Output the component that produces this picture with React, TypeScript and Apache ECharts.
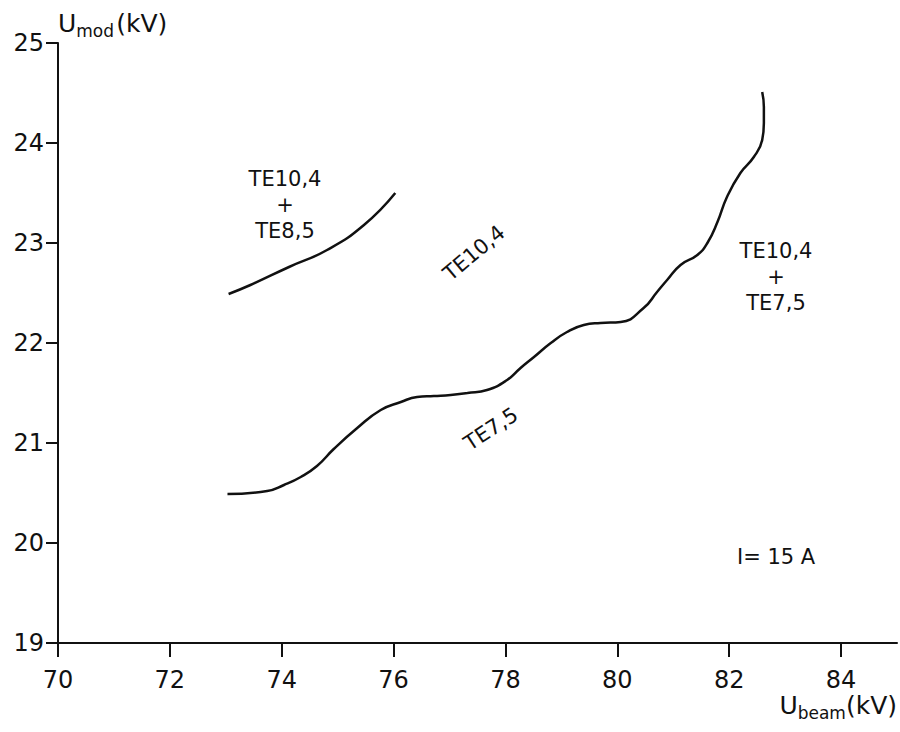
import React, { useEffect, useRef } from "react";
import * as echarts from "echarts";

// Tick labels
const xTicks = [70, 72, 74, 76, 78, 80, 82, 84];
const yTicks = [19, 20, 21, 22, 23, 24, 25];

// Boundary TE10,4 / TE10,4+TE8,5
const upperX = [73.05, 73.44, 74.13, 74.81, 75.47, 76.03];
const upperY = [22.49, 22.58, 22.76, 22.93, 23.18, 23.5];

// Boundary TE7,5 / TE10,4 / TE10,4+TE7,5
const lowerX = [
  73.03, 73.74, 74.04, 74.34, 74.63, 74.93, 75.35, 75.77, 76.13, 76.42, 76.72,
  77.02, 77.32, 77.67, 78.03, 78.27, 78.51, 78.81, 79.1, 79.4, 79.7, 80.06,
  80.47, 80.71, 80.89, 81.13, 81.43, 81.61, 81.79, 81.96, 82.2, 82.44, 82.59,
  82.62, 82.62, 82.59,
];
const lowerY = [
  20.49, 20.52, 20.58, 20.66, 20.77, 20.94, 21.15, 21.33, 21.41, 21.46, 21.47,
  21.48, 21.5, 21.53, 21.63, 21.75, 21.86, 22.0, 22.11, 22.18, 22.2, 22.21,
  22.35, 22.51, 22.63, 22.78, 22.88, 23.0, 23.21, 23.46, 23.7, 23.86, 24.03,
  24.2, 24.36, 24.51,
];

// Axis names and region labels
const yName = "{u|U}{s|mod}{g| }{u|(kV)}";
const xName = "{u|U}{s|beam}{u|(kV)}";
const labelTopLeft = "TE10,4\n+\nTE8,5";
const labelMiddle = "TE10,4";
const labelLower = "TE7,5";
const labelRight = "TE10,4\n+\nTE7,5";
const labelCurrent = "I= 15 A";

const FONT = "DejaVu Sans";
const INK = "#111";

export default function App() {
  const ref = useRef<HTMLDivElement>(null);
  useEffect(() => {
    if (!ref.current) return;
    const chart = echarts.init(ref.current, null, { renderer: "svg" });
    const pairs = (xs: number[], ys: number[]) => xs.map((x, i) => [x, ys[i]]);
    const richName = {
      u: { fontSize: 25, fontFamily: FONT, color: INK, fill: INK, verticalAlign: "top", lineHeight: 28 },
      s: { fontSize: 17, fontFamily: FONT, color: INK, fill: INK, verticalAlign: "bottom", lineHeight: 18, padding: [14, 0, 0, 0] },
      g: { fontSize: 8, lineHeight: 8 },
    };
    chart.setOption({
      animation: false,
      backgroundColor: "#fff",
      grid: { left: 58, right: 3, top: 43, bottom: 89, containLabel: false, outerBoundsMode: "none" },
      xAxis: {
        type: "value",
        min: 70,
        max: 85,
        interval: 2,
        axisLine: { show: true, onZero: false, lineStyle: { color: INK, width: 2 } },
        axisTick: { show: true, inside: false, length: 14, customValues: xTicks, lineStyle: { color: INK, width: 2 } },
        axisLabel: { customValues: xTicks, margin: 25, fontSize: 24, fontFamily: FONT, color: INK },
        splitLine: { show: false },
      },
      yAxis: {
        type: "value",
        min: 19,
        max: 25,
        interval: 1,
        name: yName,
        nameLocation: "end",
        nameGap: 4,
        nameTextStyle: {
          align: "left",
          verticalAlign: "bottom",
          rich: richName,
        },
        axisLine: { show: true, onZero: false, lineStyle: { color: INK, width: 2 } },
        axisTick: { show: true, inside: false, length: 12, customValues: yTicks, lineStyle: { color: INK, width: 2 } },
        axisLabel: { customValues: yTicks, margin: 14, fontSize: 24, fontFamily: FONT, color: INK },
        splitLine: { show: false },
      },
      series: [
        {
          type: "line",
          data: pairs(upperX, upperY),
          smooth: 0.5,
          showSymbol: false,
          lineStyle: { color: INK, width: 2.5 },
        },
        {
          type: "line",
          data: pairs(lowerX, lowerY),
          smooth: 0.5,
          showSymbol: false,
          lineStyle: { color: INK, width: 2.5 },
        },
      ],
      graphic: [
        {
          type: "text",
          x: 897,
          y: 693,
          style: { text: xName, rich: richName, fill: INK, align: "right", verticalAlign: "top" },
        },
        {
          type: "text",
          x: 285,
          y: 166,
          style: { text: labelTopLeft, fontSize: 21, fontFamily: FONT, fill: INK, align: "center", verticalAlign: "top", lineHeight: 26 },
        },
        {
          type: "text",
          x: 776,
          y: 238,
          style: { text: labelRight, fontSize: 21, fontFamily: FONT, fill: INK, align: "center", verticalAlign: "top", lineHeight: 26 },
        },
        {
          type: "text",
          x: 474,
          y: 253,
          rotation: 0.7,
          style: { text: labelMiddle, fontSize: 21, fontFamily: FONT, fill: INK, align: "center", verticalAlign: "middle" },
        },
        {
          type: "text",
          x: 491,
          y: 429,
          rotation: 0.58,
          style: { text: labelLower, fontSize: 21, fontFamily: FONT, fill: INK, align: "center", verticalAlign: "middle" },
        },
        {
          type: "text",
          x: 737,
          y: 546,
          style: { text: labelCurrent, fontSize: 21, fontFamily: FONT, fill: INK, align: "left", verticalAlign: "top" },
        },
      ],
    });
    return () => chart.dispose();
  }, []);
  return (
    <div
      ref={ref}
      style={{ position: "absolute", left: 0, top: 0, width: 900, height: 732, background: "#fff" }}
    />
  );
}
